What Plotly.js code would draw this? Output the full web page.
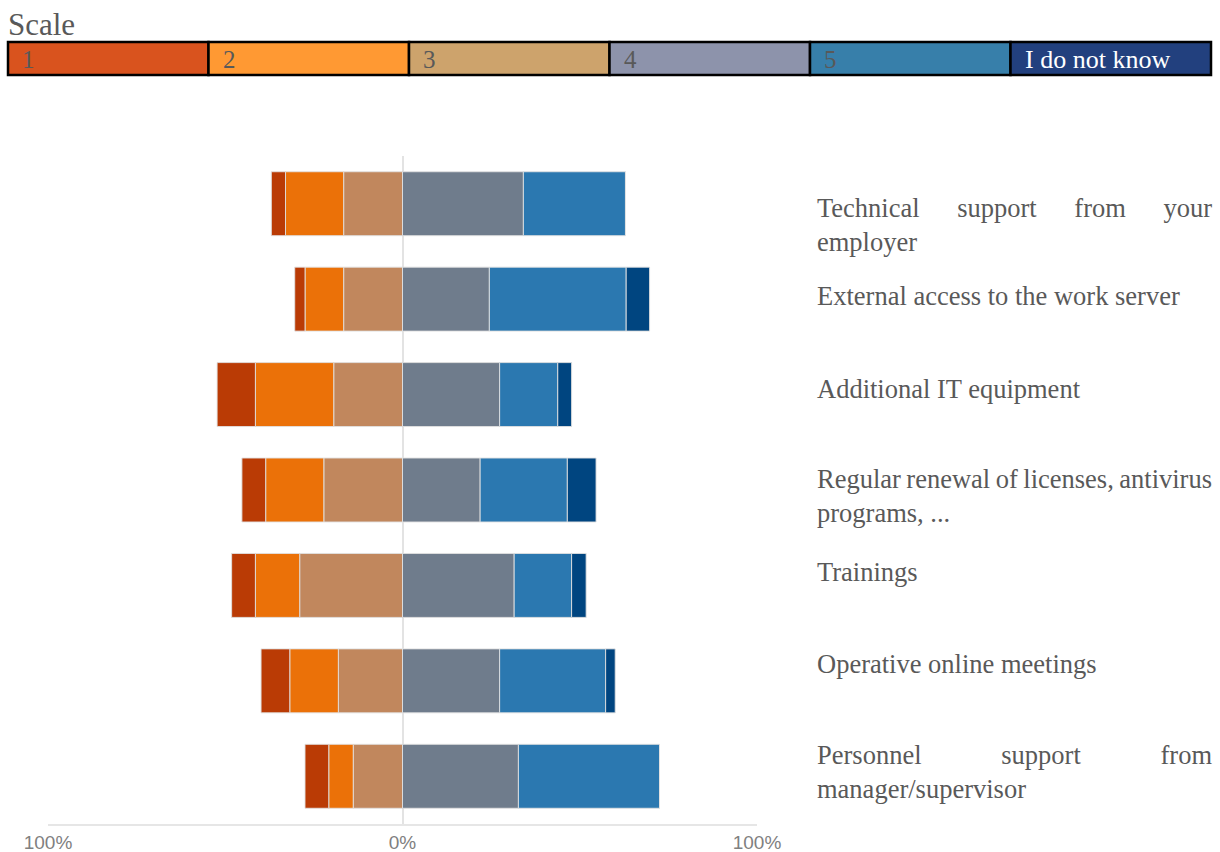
<!DOCTYPE html>
<html>
<head>
<meta charset="utf-8">
<script src="https://cdn.plot.ly/plotly-3.0.1.min.js"></script>
<style>
  html, body { margin: 0; padding: 0; background: #ffffff; }
  #chart { width: 1220px; height: 852px; }
</style>
</head>
<body>
<div id="chart"></div>
<script>
// ---------- DATA ----------
const categories = [
  "Technical support from your employer",
  "External access to the work server",
  "Additional IT equipment",
  "Regular renewal of licenses, antivirus programs, ...",
  "Trainings",
  "Operative online meetings",
  "Personnel support from manager/supervisor"
];
const labelLines = [
  ["Technical support from your", "employer"],
  ["External access to the work server"],
  ["Additional IT equipment"],
  ["Regular renewal of licenses, antivirus", "programs, ..."],
  ["Trainings"],
  ["Operative online meetings"],
  ["Personnel support from", "manager/supervisor"]
];
// percentages per scale level (1, 2 and 3 drawn to the left of 0)
const scale1 = [4.0, 2.9, 10.8, 6.7, 6.7, 8.1, 6.7];
const scale2 = [16.4, 10.9, 22.1, 16.4, 12.5, 13.7, 6.9];
const scale3 = [16.6, 16.6, 19.4, 22.2, 29.0, 18.1, 13.9];
const scale4 = [34.1, 24.5, 27.4, 21.9, 31.5, 27.4, 32.7];
const scale5 = [28.8, 38.6, 16.4, 24.6, 16.2, 29.9, 39.8];
const scaleDK = [0.0, 6.6, 3.9, 8.1, 4.1, 2.7, 0.0];

const legendNames = ["1", "2", "3", "4", "5", "I do not know"];
const tickVals = [-100, 0, 100];
const tickText = ["100%", "0%", "100%"];

// ---------- STYLE ----------
const barColors = {
  s1: "#BA3B05", s2: "#EB7108", s3: "#C1875D",
  s4: "#6F7C8C", s5: "#2B78B0", dk: "#004580"
};
const legendColors = ["#D9531E", "#FF9933", "#CDA36C", "#8D93AB", "#377FAA", "#22407E"];
const legendTextColors = ["#595959", "#595959", "#595959", "#595959", "#595959", "#FFFFFF"];

const W = 1220, H = 852;
const M = { l: 48, r: 463, t: 156, b: 28 };
const PW = W - M.l - M.r, PH = H - M.t - M.b;
const px2x = p => (p - M.l) / PW;
const px2y = p => (H - M.b - p) / PH;

const neg = arr => arr.map(v => -v);
const lineStyle = { color: "rgba(225,225,225,0.9)", width: 1 };

function barTrace(name, xs, color) {
  return {
    type: "bar", orientation: "h", name: name,
    y: categories, x: xs,
    marker: { color: color, line: lineStyle },
    hoverinfo: "skip", showlegend: false
  };
}

const traces = [
  barTrace("3", neg(scale3), barColors.s3),
  barTrace("2", neg(scale2), barColors.s2),
  barTrace("1", neg(scale1), barColors.s1),
  barTrace("4", scale4, barColors.s4),
  barTrace("5", scale5, barColors.s5),
  barTrace("I do not know", scaleDK, barColors.dk)
];

// ---------- legend boxes (Scale) ----------
const shapes = [];
const annotations = [];
const legLeft = 8, legRight = 1211, legTop = 42, legBottom = 75;
const boxW = (legRight - legLeft) / legendNames.length;
legendNames.forEach((nm, i) => {
  const x0 = legLeft + i * boxW, x1 = x0 + boxW;
  shapes.push({
    type: "rect", xref: "paper", yref: "paper",
    x0: px2x(x0), x1: px2x(x1), y0: px2y(legBottom), y1: px2y(legTop),
    fillcolor: legendColors[i], line: { color: "#000000", width: 2.5 }, layer: "above"
  });
  annotations.push({
    xref: "paper", yref: "paper", x: px2x(x0 + (i === 5 ? 12 : 12)), y: px2y(60),
    xanchor: "left", yanchor: "middle", showarrow: false,
    text: nm,
    font: { family: "Liberation Serif, Times New Roman, serif", size: i === 5 ? 26 : 25, color: legendTextColors[i] }
  });
});
annotations.push({
  xref: "paper", yref: "paper", x: px2x(6), y: px2y(24),
  xanchor: "left", yanchor: "middle", showarrow: false,
  text: "Scale",
  font: { family: "Liberation Serif, Times New Roman, serif", size: 31, color: "#595959" }
});

// ---------- category labels on the right ----------
const labelShift = [-21, 3, 6, -6, 13, 17, 4];
labelLines.forEach((lines, i) => {
  annotations.push({
    xref: "paper", yref: "y", x: px2x(815), y: categories[i],
    xanchor: "left", yanchor: "middle", align: "left", showarrow: false,
    yshift: labelShift[i],
    text: lines.join("<br>"),
    font: { family: "Liberation Serif, Times New Roman, serif", size: 26.5, color: "#595959" }
  });
});

const layout = {
  width: W, height: H,
  margin: M,
  paper_bgcolor: "#ffffff", plot_bgcolor: "#ffffff",
  barmode: "relative",
  bargap: 0.33,
  showlegend: false,
  xaxis: {
    range: [-100, 100],
    tickvals: tickVals, ticktext: tickText,
    showgrid: true, gridcolor: "#E6E6E6", gridwidth: 2,
    zeroline: true, zerolinecolor: "#E3E3E3", zerolinewidth: 2,
    showline: true, linecolor: "#E6E6E6", linewidth: 2,
    ticks: "", ticklabelstandoff: 0,
    tickfont: { family: "Liberation Sans, Arial, sans-serif", size: 19, color: "#808080" },
    fixedrange: true
  },
  yaxis: {
    type: "category",
    range: [6.5, -0.5],
    showticklabels: false, showgrid: false, zeroline: false, showline: false,
    ticks: "", fixedrange: true
  },
  shapes: shapes,
  annotations: annotations
};

Plotly.newPlot("chart", traces, layout, { displayModeBar: false, staticPlot: true }).then(gd => {
  // justify the first line of multi-line labels across the label column (815..1210 px)
  const target = 1210 - 815;
  gd.querySelectorAll(".annotation-text").forEach(t => {
    const lines = t.querySelectorAll("tspan.line");
    if (lines.length < 2) return;
    const first = lines[0];
    const txt = first.textContent;
    const nSp = (txt.match(/ /g) || []).length;
    if (!nSp) return;
    const w = first.getComputedTextLength();
    const extra = (target - w) / nSp;
    first.style.wordSpacing = extra + "px";
  });
});
</script>
</body>
</html>
